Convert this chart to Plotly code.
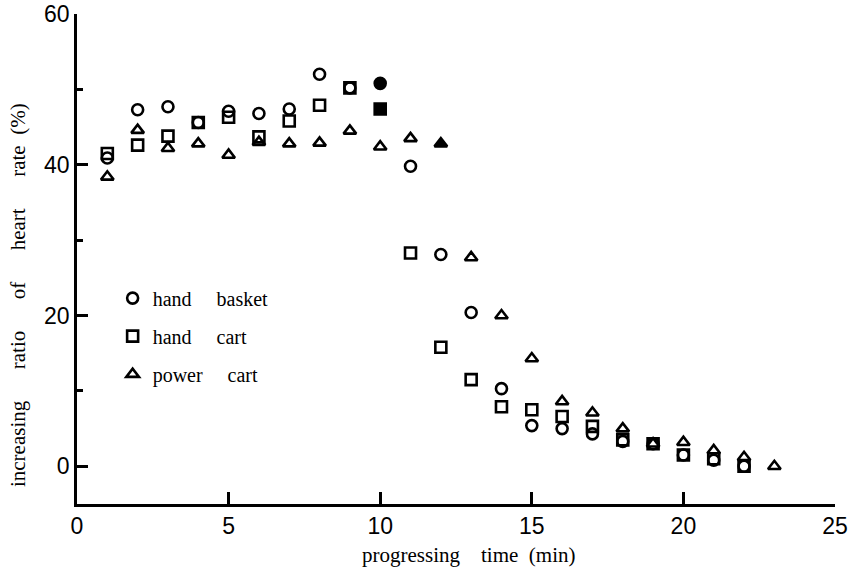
import plotly.graph_objects as go

# ---- data ----
time_basket = list(range(1, 23))
hand_basket = [40.9, 47.3, 47.7, 45.6, 47.1, 46.8, 47.4, 52.0, 50.2, 50.8, 39.8,
               28.1, 20.4, 10.3, 5.4, 5.0, 4.3, 3.3, 3.0, 1.5, 0.8, 0.0]
time_cart = list(range(1, 23))
hand_cart = [41.5, 42.6, 43.8, 45.6, 46.3, 43.7, 45.8, 47.9, 50.2, 47.4, 28.3,
             15.8, 11.5, 7.9, 7.5, 6.6, 5.3, 3.5, 3.0, 1.5, 1.0, 0.0]
time_power = list(range(1, 24))
power_cart = [38.4, 44.6, 42.2, 42.8, 41.3, 43.0, 42.8, 42.9, 44.5, 42.4, 43.5,
              42.8, 27.7, 20.0, 14.3, 8.6, 7.1, 5.0, 3.0, 3.2, 2.1, 1.2, 0.0]
# time at which the (filled) end-of-work marker is drawn
end_basket = 10
end_cart = 10
end_power = 12

x_ticks = [0, 5, 10, 15, 20, 25]
y_ticks = [0, 20, 40, 60]

S = "\u00a0"
series = [
    ("hand" + S * 5 + "basket", time_basket, hand_basket, end_basket, "circle"),
    ("hand" + S * 5 + "cart", time_cart, hand_cart, end_cart, "square"),
    ("power" + S * 5 + "cart", time_power, power_cart, end_power, "triangle-up"),
]

fig = go.Figure()
for i, (name, t, v, end_t, sym) in enumerate(series):
    symbols = [sym if ti == end_t else sym + "-open" for ti in t]
    fig.add_trace(go.Scatter(
        x=t, y=v, mode="markers", name=name, legendgroup=f"g{i}",
        marker=dict(symbol=symbols, size=11,
                    color="black", line=dict(color="black", width=2.6)),
    ))

tick_font = dict(family="Liberation Sans, Arial, sans-serif", size=23, color="black")
serif = "Liberation Serif, Times New Roman, serif"

fig.update_layout(
    width=850, height=575,
    margin=dict(l=77, r=15, t=14, b=71),
    paper_bgcolor="white", plot_bgcolor="white",
    showlegend=True,
    legend=dict(x=0.047, y=0.46, xanchor="left", yanchor="top",
                font=dict(family=serif, size=20, color="black"),
                bgcolor="rgba(0,0,0,0)", tracegroupgap=9),
    xaxis=dict(range=[0, 25], tickvals=x_ticks, ticktext=[str(t) for t in x_ticks],
               ticks="inside", ticklen=12, tickwidth=2.5, tickcolor="black",
               showline=True, linewidth=2.5, linecolor="black", showgrid=False,
               zeroline=False, tickfont=tick_font, automargin=False,
               ticklabeloverflow="allow"),
    yaxis=dict(range=[-5, 60], tickvals=y_ticks, ticktext=[str(t) for t in y_ticks],
               ticks="inside", ticklen=11, tickwidth=2.5, tickcolor="black",
               minor=dict(tickvals=[10, 30, 50], ticks="inside", ticklen=6,
                          tickwidth=2.5, tickcolor="black"),
               showline=True, linewidth=2.5, linecolor="black", showgrid=False,
               zeroline=False, tickfont=tick_font, automargin=False,
               ticklabeloverflow="allow"),
    annotations=[
        dict(text="progressing" + S * 4 + "time" + S * 2 + "(min)",
             xref="paper", yref="paper", x=0.517, y=-0.104,
             xanchor="center", yanchor="middle", showarrow=False,
             font=dict(family=serif, size=21, color="black")),
        dict(text="increasing" + S * 6 + "ratio" + S * 6 + "of" + S * 6
             + "heart" + S * 6 + "rate" + S * 2 + "(%)",
             xref="paper", yref="paper", x=-0.0778, y=0.4265, textangle=-90,
             xanchor="center", yanchor="middle", showarrow=False,
             font=dict(family=serif, size=21, color="black")),
    ],
)

# remove the page's default 8px body margin so the figure fills the window
fig.write_html("out.html", config={"displayModeBar": False},
               post_script="document.body.style.margin='0';")
